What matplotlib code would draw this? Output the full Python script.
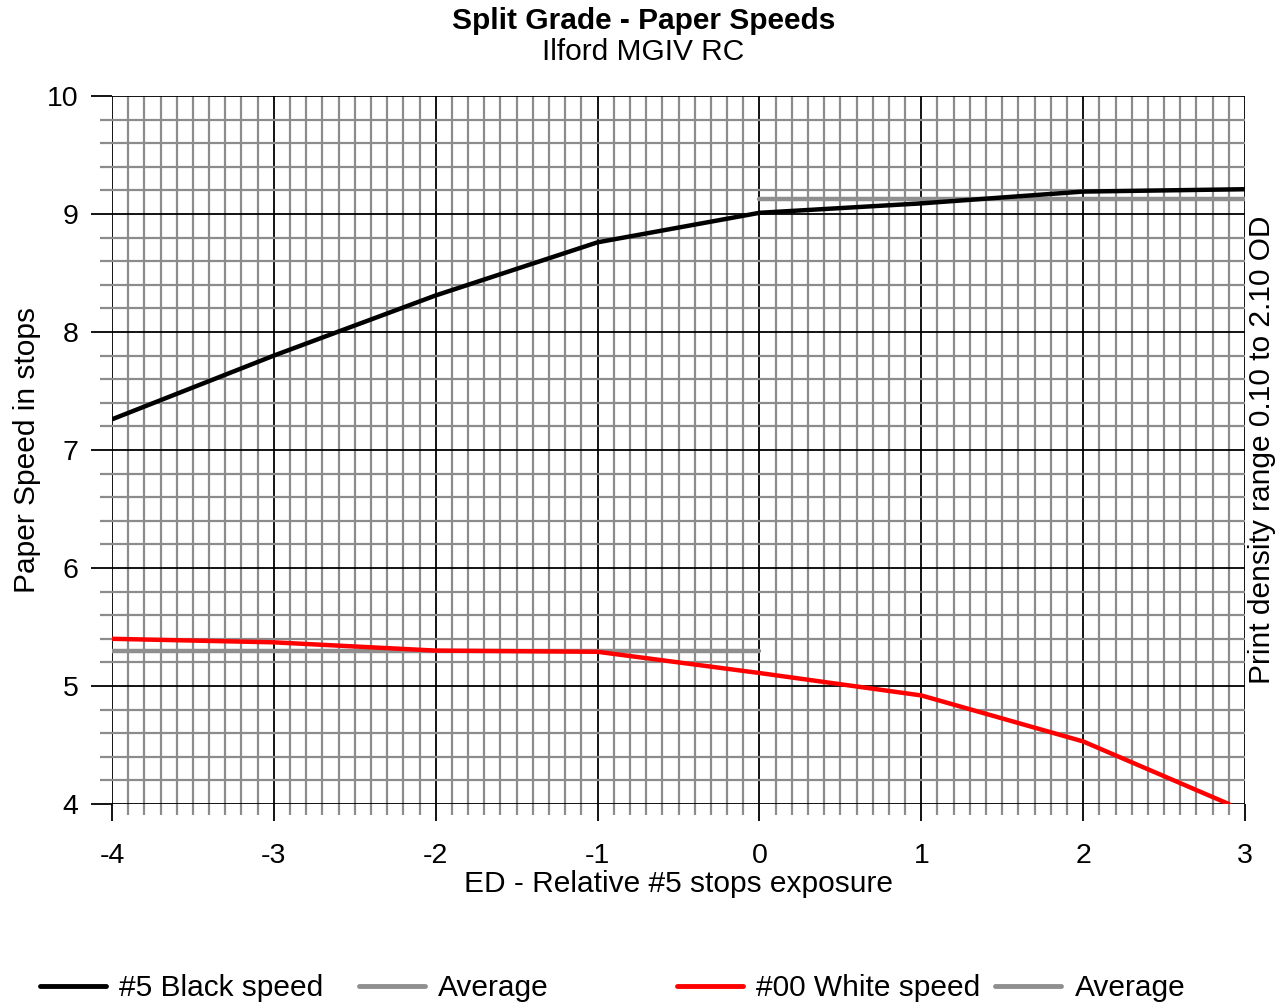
import matplotlib
matplotlib.use("Agg")
import matplotlib.pyplot as plt
from matplotlib.lines import Line2D
from matplotlib.ticker import MultipleLocator

plt.rcParams['font.family'] = ['Liberation Sans', 'DejaVu Sans']
plt.rcParams['axes.unicode_minus'] = False

# Relative #5 exposure (stops) and paper speeds
black_x = [-4, -3, -2, -1, 0, 1, 2, 3]
black_speed = [7.26, 7.80, 8.31, 8.76, 9.01, 9.09, 9.19, 9.21]
black_avg_x = [0, 3]
black_avg = [9.13, 9.13]

white_x = [-4, -3, -2, -1, 0, 1, 2, 2.9]
white_speed = [5.40, 5.37, 5.30, 5.29, 5.11, 4.92, 4.53, 4.00]
white_avg_x = [-4, 0]
white_avg = [5.30, 5.30]

legend_labels = ["#5 Black speed", "Average", "#00 White speed", "Average"]

FS = 21.5

fig = plt.figure(figsize=(12.87, 10.06), dpi=100)
ax = fig.add_axes([112/1287, 1-804/1006, (1245-112)/1287, (804-96)/1006])

ax.set_xlim(-4, 3)
ax.set_ylim(4, 10)
ax.xaxis.set_major_locator(MultipleLocator(1))
ax.xaxis.set_minor_locator(MultipleLocator(0.1))
ax.yaxis.set_major_locator(MultipleLocator(1))
ax.yaxis.set_minor_locator(MultipleLocator(0.2))

ax.grid(which='minor', color='#8c8c8c', linewidth=1.6, zorder=0)
ax.grid(which='major', color='black', linewidth=1.3, zorder=1)
ax.set_axisbelow(True)
for s in ax.spines.values():
    s.set_visible(False)

ax.tick_params(which='major', length=15, width=1.3, color='black', labelsize=20.5)
ax.tick_params(which='minor', length=9, width=1.6, color='#8c8c8c')
ax.tick_params(axis='y', which='major', pad=9)
ax.tick_params(axis='x', which='major', length=12, pad=16)
ax.tick_params(axis='x', which='minor', length=8)

gray = '#8f8f8f'
ax.plot(black_x, black_speed, color='black', lw=3.2, solid_capstyle='round', zorder=5)
ax.plot(black_avg_x, black_avg, color=gray, lw=3.2, solid_capstyle='round', zorder=4)
ax.plot(white_x, white_speed, color='#ff0000', lw=3.2, solid_capstyle='round', zorder=5)
ax.plot(white_avg_x, white_avg, color=gray, lw=3.2, solid_capstyle='round', zorder=4)

ax.set_xlabel("ED - Relative #5 stops exposure", fontsize=FS, labelpad=1)
ax.set_ylabel("Paper Speed in stops", fontsize=FS, labelpad=4)
ax.text(1.0 + 3/1133, 0.5, "Print density range 0.10 to 2.10 OD", transform=ax.transAxes,
        rotation=90, fontsize=FS, ha='left', va='center')

fig.text(0.5, 1-21/1006, "Split Grade - Paper Speeds", ha='center', va='center',
         fontsize=FS, fontweight='bold')
fig.text(0.5, 1-52/1006, "Ilford MGIV RC", ha='center', va='center', fontsize=FS)

def handle(c):
    return Line2D([], [], color=c, lw=3.5, solid_capstyle='round')

leg_kw = dict(frameon=False, ncol=2, fontsize=FS, handlelength=2.2, handletextpad=0.45,
              borderpad=0, borderaxespad=0, loc='center left')
fig.legend([handle('black'), handle(gray)], legend_labels[:2], columnspacing=1.2,
           bbox_to_anchor=(40/1287, 1-988/1006), **leg_kw)
fig.legend([handle('#ff0000'), handle(gray)], legend_labels[2:], columnspacing=0.5,
           bbox_to_anchor=(677/1287, 1-988/1006), **leg_kw)

fig.savefig("out.png", dpi=100)
